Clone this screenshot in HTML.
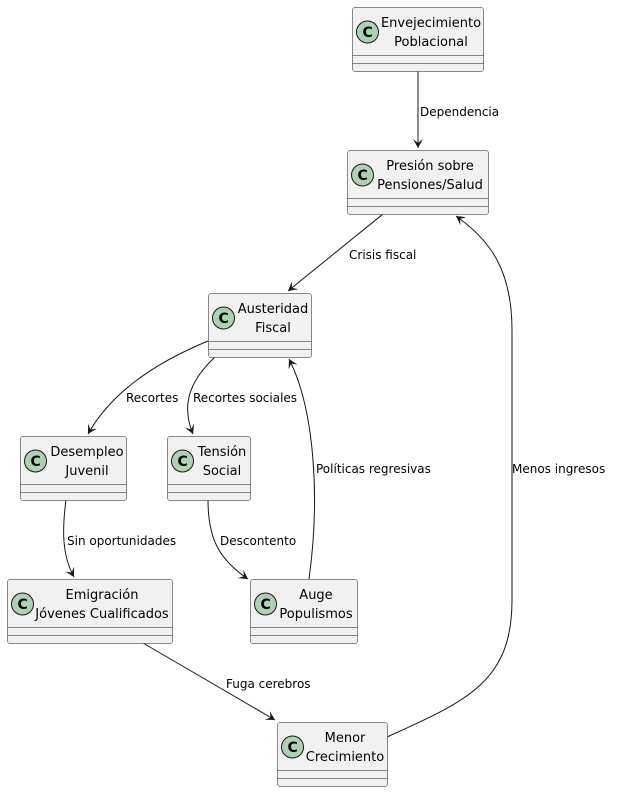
<!DOCTYPE html>
<html><head><meta charset="utf-8"><style>
html,body{margin:0;padding:0;background:#fff;}
svg{display:block;}
text{font-family:"DejaVu Sans","Liberation Sans",sans-serif;font-size:12px;fill:#000;}
.n{font-size:13px;}
.b{fill:#F1F1F1;stroke:#181818;stroke-width:0.5;}
.l{stroke:#181818;stroke-width:0.5;}
.e{fill:none;stroke:#181818;stroke-width:1;}
.c{fill:#ADD1B2;stroke:#181818;stroke-width:1;}
.ct{font-weight:bold;font-size:14px;}
</style></head><body>
<svg width="617" height="792" viewBox="0 0 617 792" xmlns="http://www.w3.org/2000/svg">
<defs>
<marker id="a" markerWidth="12" markerHeight="12" refX="9" refY="5" orient="auto" markerUnits="userSpaceOnUse">
<path d="M0,0 L9,5 L0,10 L4,5 Z" fill="#181818"/>
</marker>
</defs>

<!-- edges -->
<path class="e" d="M418,71 L418,148" marker-end="url(#a)"/>
<text x="420" y="116">Dependencia</text>

<path class="e" d="M383,214 L288,291" marker-end="url(#a)"/>
<text x="349" y="259">Crisis fiscal</text>

<path class="e" d="M208,341 C150,365 110,395 88,434" marker-end="url(#a)"/>
<text x="126" y="402">Recortes</text>

<path class="e" d="M215,357 C185,385 183,410 193,434" marker-end="url(#a)"/>
<text x="193" y="402">Recortes sociales</text>

<path class="e" d="M66,500 C62,530 62,555 74,577" marker-end="url(#a)"/>
<text x="67" y="545">Sin oportunidades</text>

<path class="e" d="M208,500 C208,540 220,560 248,579" marker-end="url(#a)"/>
<text x="220" y="545">Descontento</text>

<path class="e" d="M309,579 C320,500 315,410 289,359" marker-end="url(#a)"/>
<text x="316" y="473">Políticas regresivas</text>

<path class="e" d="M143,643 L275,720" marker-end="url(#a)"/>
<text x="226" y="688">Fuga cerebros</text>

<path class="e" d="M387,737 C470,700 512,680 512,600 L512,330 C512,270 490,240 456,216" marker-end="url(#a)"/>
<text x="512" y="473">Menos ingresos</text>

<!-- nodes -->
<g>
<rect class="b" x="352.5" y="7.5" width="131" height="64" rx="2.5"/>
<line class="l" x1="352.5" y1="55.5" x2="483.5" y2="55.5"/><line class="l" x1="352.5" y1="63.5" x2="483.5" y2="63.5"/>
<circle class="c" cx="367.5" cy="32" r="11"/><text class="ct" x="362.5" y="37">C</text>
<text class="n" x="431" y="27" text-anchor="middle">Envejecimiento</text>
<text class="n" x="431" y="46" text-anchor="middle">Poblacional</text>
</g>
<g>
<rect class="b" x="347.5" y="150.5" width="141" height="64" rx="2.5"/>
<line class="l" x1="347.5" y1="198.5" x2="488.5" y2="198.5"/><line class="l" x1="347.5" y1="206.5" x2="488.5" y2="206.5"/>
<circle class="c" cx="362.5" cy="175" r="11"/><text class="ct" x="357.5" y="180">C</text>
<text class="n" x="430" y="170" text-anchor="middle">Presión sobre</text>
<text class="n" x="430" y="189" text-anchor="middle">Pensiones/Salud</text>
</g>
<g>
<rect class="b" x="208.5" y="293.5" width="103" height="64" rx="2.5"/>
<line class="l" x1="208.5" y1="341.5" x2="311.5" y2="341.5"/><line class="l" x1="208.5" y1="349.5" x2="311.5" y2="349.5"/>
<circle class="c" cx="223.5" cy="318" r="11"/><text class="ct" x="218.5" y="323">C</text>
<text class="n" x="273" y="313" text-anchor="middle">Austeridad</text>
<text class="n" x="273" y="332" text-anchor="middle">Fiscal</text>
</g>
<g>
<rect class="b" x="20.5" y="436.5" width="106" height="64" rx="2.5"/>
<line class="l" x1="20.5" y1="484.5" x2="126.5" y2="484.5"/><line class="l" x1="20.5" y1="492.5" x2="126.5" y2="492.5"/>
<circle class="c" cx="35.5" cy="461" r="11"/><text class="ct" x="30.5" y="466">C</text>
<text class="n" x="87" y="456" text-anchor="middle">Desempleo</text>
<text class="n" x="87" y="475" text-anchor="middle">Juvenil</text>
</g>
<g>
<rect class="b" x="167.5" y="436.5" width="83" height="64" rx="2.5"/>
<line class="l" x1="167.5" y1="484.5" x2="250.5" y2="484.5"/><line class="l" x1="167.5" y1="492.5" x2="250.5" y2="492.5"/>
<circle class="c" cx="182.5" cy="461" r="11"/><text class="ct" x="177.5" y="466">C</text>
<text class="n" x="222" y="456" text-anchor="middle">Tensión</text>
<text class="n" x="222" y="475" text-anchor="middle">Social</text>
</g>
<g>
<rect class="b" x="7.5" y="579.5" width="165" height="64" rx="2.5"/>
<line class="l" x1="7.5" y1="627.5" x2="172.5" y2="627.5"/><line class="l" x1="7.5" y1="635.5" x2="172.5" y2="635.5"/>
<circle class="c" cx="22.5" cy="604" r="11"/><text class="ct" x="17.5" y="609">C</text>
<text class="n" x="102" y="599" text-anchor="middle">Emigración</text>
<text class="n" x="102" y="618" text-anchor="middle">Jóvenes Cualificados</text>
</g>
<g>
<rect class="b" x="250.5" y="579.5" width="107" height="64" rx="2.5"/>
<line class="l" x1="250.5" y1="627.5" x2="357.5" y2="627.5"/><line class="l" x1="250.5" y1="635.5" x2="357.5" y2="635.5"/>
<circle class="c" cx="265.5" cy="604" r="11"/><text class="ct" x="260.5" y="609">C</text>
<text class="n" x="316" y="599" text-anchor="middle">Auge</text>
<text class="n" x="316" y="618" text-anchor="middle">Populismos</text>
</g>
<g>
<rect class="b" x="277.5" y="722.5" width="110" height="64" rx="2.5"/>
<line class="l" x1="277.5" y1="770.5" x2="387.5" y2="770.5"/><line class="l" x1="277.5" y1="778.5" x2="387.5" y2="778.5"/>
<circle class="c" cx="292.5" cy="747" r="11"/><text class="ct" x="287.5" y="752">C</text>
<text class="n" x="345" y="742" text-anchor="middle">Menor</text>
<text class="n" x="345" y="761" text-anchor="middle">Crecimiento</text>
</g>
</svg>
</body></html>
